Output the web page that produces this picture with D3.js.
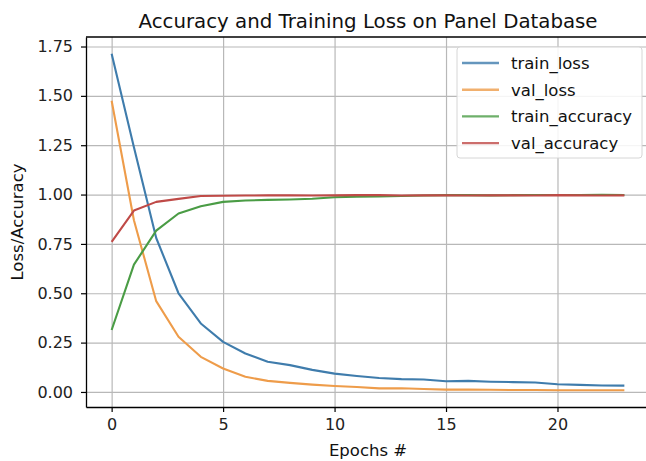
<!DOCTYPE html>
<html>
<head>
<meta charset="utf-8">
<script src="https://cdn.jsdelivr.net/npm/d3@7"></script>
<style>
  body { margin: 0; background: #fff; }
  svg { display: block; font-family: "DejaVu Sans", sans-serif; }
</style>
</head>
<body>
<div id="chart"></div>
<script>
// epochs and series
var epochs = d3.range(0, 24);

var trainLoss = [1.713, 1.24, 0.78, 0.50, 0.347, 0.254, 0.195, 0.153, 0.136, 0.112, 0.093, 0.081,
  0.071, 0.065, 0.063, 0.054, 0.056, 0.052, 0.050, 0.048, 0.039, 0.036, 0.033, 0.032];
var valLoss = [1.475, 0.87, 0.46, 0.28, 0.178, 0.119, 0.077, 0.056, 0.046, 0.037, 0.030, 0.025,
  0.018, 0.019, 0.015, 0.012, 0.012, 0.011, 0.010, 0.010, 0.009, 0.009, 0.009, 0.009];
var trainAcc = [0.314, 0.645, 0.817, 0.904, 0.941, 0.963, 0.970, 0.973, 0.975, 0.979, 0.986, 0.989,
  0.990, 0.993, 0.995, 0.997, 0.997, 0.996, 0.997, 0.998, 0.998, 0.998, 0.999, 0.998];
var valAcc = [0.760, 0.919, 0.963, 0.978, 0.993, 0.994, 0.995, 0.996, 0.996, 0.995, 0.996, 0.997,
  0.997, 0.995, 0.996, 0.996, 0.995, 0.996, 0.996, 0.995, 0.997, 0.996, 0.995, 0.996];

var seriesNames = ["train_loss", "val_loss", "train_accuracy", "val_accuracy"];
var palette = ["#3f7cac", "#ee9c4a", "#4a9c45", "#bf4a47"];

var xTicks = [0, 5, 10, 15, 20];
var yTicks = [0, 0.25, 0.5, 0.75, 1.0, 1.25, 1.5, 1.75];

var title = "Accuracy and Training Loss on Panel Database";
var xtitle = "Epochs #";
var ytitle = "Loss/Accuracy";

var width = 646, height = 461;
var margin = {top: 37, right: -4, bottom: 54, left: 86};
var widthG = width - margin.left - margin.right;
var heightG = height - margin.top - margin.bottom;

var series = [trainLoss, valLoss, trainAcc, valAcc].map(function(vals, k) {
  return vals.map(function(v, i) { return {serie: seriesNames[k], epoch: epochs[i], value: v}; });
});

// matplotlib style 5% margins
var xExt = d3.extent(epochs);
var xPad = (xExt[1] - xExt[0]) * 0.05;
var yMin = d3.min(series, function(s) { return d3.min(s, function(d) { return d.value; }); });
var yMax = d3.max(series, function(s) { return d3.max(s, function(d) { return d.value; }); });
var yPad = (yMax - yMin) * 0.05;

var x = d3.scaleLinear().domain([xExt[0] - xPad, xExt[1] + xPad]).range([0, widthG]);
var y = d3.scaleLinear().domain([yMin - yPad, yMax + yPad]).range([heightG, 0]);
var z = d3.scaleOrdinal().domain(seriesNames).range(palette);

var svg = d3.select("#chart").append("svg")
  .attr("width", width)
  .attr("height", height);

var g = svg.append("g")
  .attr("transform", "translate(" + margin.left + "," + margin.top + ")");

//gridlines
g.append("g")
  .attr("class", "grid")
  .attr("transform", "translate(0," + heightG + ")")
  .call(d3.axisBottom(x).tickValues(xTicks).tickSize(-heightG).tickFormat(""));

g.append("g")
  .attr("class", "grid")
  .call(d3.axisLeft(y).tickValues(yTicks).tickSize(-widthG).tickFormat(""));

g.selectAll(".grid path").remove();
g.selectAll(".grid line")
  .style("stroke", "#b8b8b8")
  .style("stroke-width", "1.2px");

//lines
var serie = g.selectAll(".serie")
  .data(series)
  .enter().append("g")
  .attr("class", "serie");

serie.append("path")
  .attr("fill", "none")
  .attr("stroke-width", "2.1px")
  .attr("stroke-linejoin", "round")
  .style("stroke", function(d) { return z(d[0].serie); })
  .attr("d", d3.line()
    .x(function(d) { return x(d.epoch); })
    .y(function(d) { return y(d.value); }));

//axes
g.append("g")
  .attr("class", "x axis")
  .attr("transform", "translate(0," + heightG + ")")
  .call(d3.axisBottom(x).tickValues(xTicks).tickSizeInner(5).tickSizeOuter(0)
    .tickPadding(7).tickFormat(d3.format("d")));

g.append("g")
  .attr("class", "y axis")
  .call(d3.axisLeft(y).tickValues(yTicks).tickSizeInner(5).tickSizeOuter(0)
    .tickPadding(8).tickFormat(d3.format(".2f")));

g.selectAll(".axis path").style("stroke", "#000").style("stroke-width", "1.3px");
g.selectAll(".axis line").style("stroke", "#000").style("stroke-width", "1.2px");
g.selectAll(".axis text")
  .style("font-family", "DejaVu Sans")
  .style("font-size", "16px")
  .style("fill", "#222");

// top spine
g.append("line")
  .attr("x1", 0).attr("x2", widthG)
  .attr("y1", 0).attr("y2", 0)
  .style("stroke", "#000").style("stroke-width", "1.3px");

//titles
g.append("text")
  .attr("x", widthG / 2)
  .attr("y", -9)
  .style("text-anchor", "middle")
  .style("font-size", "19.8px")
  .style("fill", "#111")
  .text(title);

g.append("text")
  .attr("x", widthG / 2)
  .attr("y", heightG + 49)
  .style("text-anchor", "middle")
  .style("font-size", "16.5px")
  .style("fill", "#111")
  .text(xtitle);

g.append("text")
  .attr("transform", "rotate(-90)")
  .attr("x", -heightG / 2)
  .attr("y", -margin.left + 23)
  .style("text-anchor", "middle")
  .style("font-size", "16.5px")
  .style("fill", "#111")
  .text(ytitle);

//legend
var legendg = svg.append("g")
  .attr("transform", "translate(457,47)");

legendg.append("rect")
  .attr("width", 185)
  .attr("height", 111)
  .attr("rx", 3)
  .style("fill", "#fff")
  .style("fill-opacity", 0.85)
  .style("stroke", "#d6d6d6");

var legend = legendg.selectAll(".legends")
  .data(seriesNames)
  .enter().append("g")
  .attr("class", "legends")
  .attr("transform", function(d, i) { return "translate(0," + (16 + i * 26.7) + ")"; });

legend.append("line")
  .attr("x1", 5).attr("x2", 42)
  .style("stroke", function(d) { return z(d); })
  .style("stroke-width", "2.4px")
  .style("stroke-opacity", 0.8);

legend.append("text")
  .attr("x", 54)
  .attr("y", 6)
  .style("font-size", "16.5px")
  .style("fill", "#111")
  .text(function(d) { return d; });
</script>
</body>
</html>
